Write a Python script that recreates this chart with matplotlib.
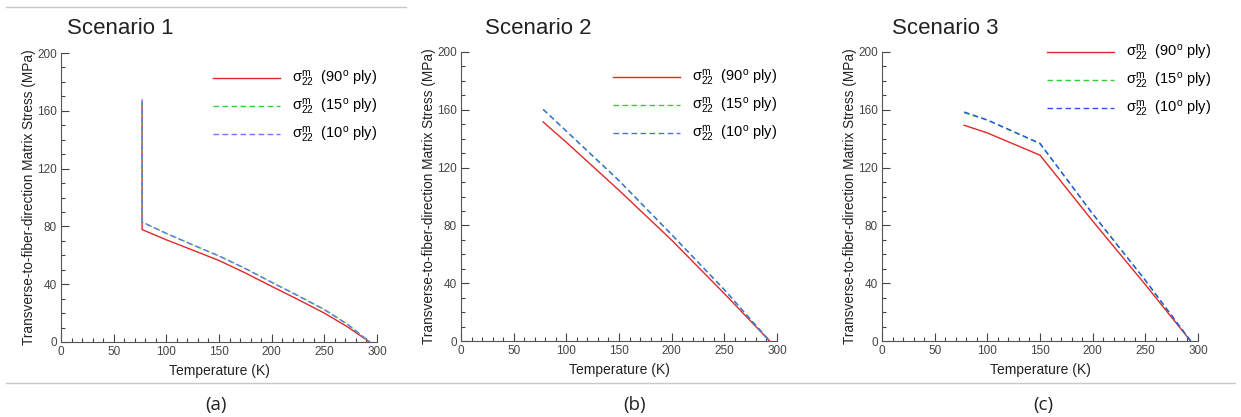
import matplotlib
matplotlib.use("Agg")
import matplotlib.pyplot as plt
from matplotlib.ticker import MultipleLocator
from matplotlib.lines import Line2D

plt.rcParams['font.family'] = ['Liberation Sans', 'DejaVu Sans']
plt.rcParams['mathtext.fontset'] = 'custom'
plt.rcParams['mathtext.rm'] = 'Liberation Sans'
plt.rcParams['mathtext.it'] = 'Liberation Sans'

# scenario 1 : vertical jump at 77 K then a curve down to 293 K
s1_temp = [77, 77, 100, 125, 150, 175, 200, 225, 250, 272, 293]
s1_red = [165, 77.8, 70.7, 63.6, 56.4, 47.8, 38.5, 29.4, 20.0, 10.5, 0]
s1_green = [167, 83, 75.2, 67.3, 59.6, 50.9, 41.4, 32.1, 22.5, 12.3, 0]
s1_blue = [168, 83, 75.1, 67.2, 59.5, 50.8, 41.3, 32.0, 22.4, 12.2, 0]

# scenario 2
s2_temp = [78, 100, 150, 200, 250, 293]
s2_red = [151.6, 137.5, 104.3, 69.8, 32.8, 0]
s2_green = [160.3, 145.3, 111.0, 73.6, 35.5, 0]
s2_blue = [160.3, 145.2, 111.0, 73.6, 35.5, 0]

# scenario 3 : kink at 150 K
s3_temp = [78, 100, 150, 200, 250, 293]
s3_red = [149.3, 144.0, 128.6, 83.0, 39.0, 0]
s3_green = [158.0, 152.8, 136.5, 88.0, 42.0, 0]
s3_blue = [158.5, 153.0, 136.8, 88.0, 42.0, 0]

titles = ["Scenario 1", "Scenario 2", "Scenario 3"]
tags = ["(a)", "(b)", "(c)"]
labels = [r"$\sigma_{22}^{\rm m}$  (90$^{\rm o}$ ply)",
          r"$\sigma_{22}^{\rm m}$  (15$^{\rm o}$ ply)",
          r"$\sigma_{22}^{\rm m}$  (10$^{\rm o}$ ply)"]

W, H = 1241, 417
fig = plt.figure(figsize=(12.41, 4.17), dpi=100)

lefts = [61, 461, 882]
tops = [342, 341, 341]
title_x = [67, 485, 892]
tag_x = [216, 635, 1043]
leg_pos = [(0.481, 0.944), (0.481, 0.944), (0.522, 1.03)]

data = [
    (s1_temp, s1_red, s1_green, s1_blue, '#7272ff'),
    (s2_temp, s2_red, s2_green, s2_blue, '#4a6cf0'),
    (s3_temp, s3_red, s3_green, s3_blue, '#3050f0'),
]

for i in range(3):
    ax = fig.add_axes([lefts[i] / W, (H - tops[i]) / H, 316 / W, 289 / H])
    t, red, green, blue, bcol = data[i]
    ax.plot(t, red, color='#e02828', lw=1.0)
    ax.plot(t, green, color='#30d030', lw=1.0, ls=(0, (4, 2.5)))
    ax.plot(t, blue, color=bcol, lw=1.0, ls=(0, (4, 2.5)))

    ax.set_xlim(0, 300)
    ax.set_ylim(0, 200)
    ax.xaxis.set_major_locator(MultipleLocator(50))
    ax.xaxis.set_minor_locator(MultipleLocator(10))
    ax.yaxis.set_major_locator(MultipleLocator(40))
    ax.yaxis.set_minor_locator(MultipleLocator(10))
    ax.tick_params(which='both', direction='in', labelsize=8.5, colors='#444444',
                   width=0.8)
    ax.tick_params(which='major', length=6, pad=3)
    ax.tick_params(which='minor', length=3)
    for side in ['top', 'right']:
        ax.spines[side].set_visible(False)
    for side in ['left', 'bottom']:
        ax.spines[side].set_color('#555555')
        ax.spines[side].set_linewidth(0.8)
    ax.set_xlabel("Temperature (K)", fontsize=10, labelpad=4, color='#222222')
    ax.set_ylabel("Transverse-to-fiber-direction Matrix Stress (MPa)", fontsize=9.8,
                  labelpad=1, color='#222222')

    handles = [Line2D([], [], color='#e02828', lw=1.0),
               Line2D([], [], color='#30d030', lw=1.0, ls=(0, (4, 2.5))),
               Line2D([], [], color=bcol, lw=1.0, ls=(0, (4, 2.5)))]
    ax.legend(handles, labels, loc='upper left', bbox_to_anchor=leg_pos[i],
              frameon=False, fontsize=10.5, handlelength=4.6, handletextpad=0.8,
              labelspacing=0.55, borderaxespad=0, borderpad=0)

    fig.text(title_x[i] / W, 1 - 28 / H, titles[i], fontsize=16, va='center', ha='left',
             color='#222222')
    fig.text(tag_x[i] / W, 1 - 405 / H, tags[i], fontsize=13.5, va='center', ha='center',
             family=['Open Sans', 'DejaVu Sans'], color='#222222')

# separating rules of the original page
fig.add_artist(Line2D([6 / W, 406 / W], [1 - 7 / H, 1 - 7 / H], color='#c8c8c8', lw=1))
fig.add_artist(Line2D([6 / W, 1235 / W], [1 - 383 / H, 1 - 383 / H], color='#c8c8c8', lw=1))

fig.savefig("out.png", dpi=100)
